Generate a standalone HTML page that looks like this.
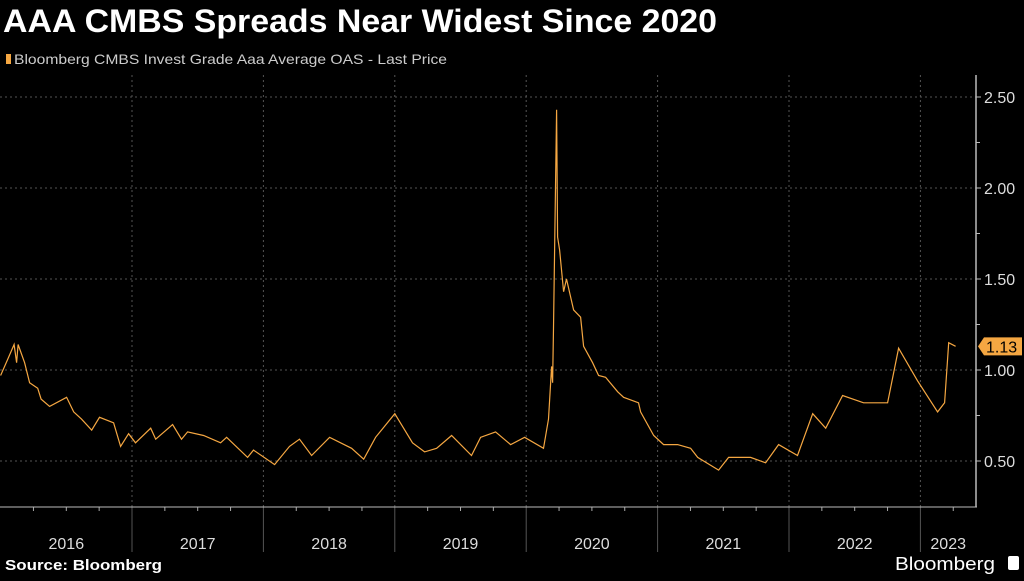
<!DOCTYPE html>
<html><head><meta charset="utf-8"><style>
body{margin:0;background:#000;width:1024px;height:576px;overflow:hidden;font-family:"Liberation Sans",sans-serif;}
</style></head><body>
<svg width="1024" height="576" xmlns="http://www.w3.org/2000/svg">
<text x="3" y="32" fill="#fff" font-size="32" font-weight="bold" textLength="714" lengthAdjust="spacingAndGlyphs">AAA CMBS Spreads Near Widest Since 2020</text>
<rect x="6" y="54" width="5" height="10" fill="#f5a742"/>
<text x="14" y="64" fill="#ccc" font-size="14" textLength="433" lengthAdjust="spacingAndGlyphs">Bloomberg CMBS Invest Grade Aaa Average OAS - Last Price</text>
<g id="grid"></g>
<g id="axes"></g>
<path id="line" fill="none" stroke="#f5a742" stroke-width="1.2"/>
<g id="badge"></g>
<text x="5" y="570" fill="#fff" font-size="15" font-weight="bold" textLength="157" lengthAdjust="spacingAndGlyphs">Source: Bloomberg</text>
<text x="895" y="570" fill="#fff" font-size="18" textLength="100" lengthAdjust="spacingAndGlyphs">Bloomberg</text>
<rect x="1008" y="556" width="11" height="14" rx="2" fill="#fff"/>
</svg>
<script>
const dates=[2016.00,2016.061,2016.103,2016.122,2016.133,2016.183,2016.221,2016.282,2016.308,2016.373,2016.502,2016.556,2016.616,2016.693,2016.753,2016.860,2016.913,2016.974,2017.027,2017.142,2017.180,2017.309,2017.377,2017.423,2017.545,2017.674,2017.720,2017.880,2017.925,2018.085,2018.199,2018.275,2018.367,2018.504,2018.671,2018.763,2018.854,2019.000,2019.135,2019.227,2019.318,2019.432,2019.584,2019.653,2019.767,2019.881,2019.988,2020.132,2020.170,2020.193,2020.201,2020.208,2020.231,2020.239,2020.254,2020.285,2020.307,2020.361,2020.414,2020.437,2020.505,2020.551,2020.604,2020.696,2020.741,2020.855,2020.871,2020.970,2021.046,2021.152,2021.251,2021.305,2021.464,2021.540,2021.708,2021.822,2021.921,2022.065,2022.180,2022.279,2022.408,2022.568,2022.750,2022.834,2022.979,2023.131,2023.184,2023.215,2023.268];
const values=[0.97,1.07,1.14,1.04,1.14,1.04,0.93,0.90,0.84,0.80,0.85,0.77,0.73,0.67,0.74,0.71,0.58,0.65,0.60,0.68,0.62,0.70,0.62,0.66,0.64,0.60,0.63,0.52,0.56,0.48,0.58,0.62,0.53,0.63,0.57,0.51,0.63,0.76,0.60,0.55,0.57,0.64,0.53,0.63,0.66,0.59,0.63,0.57,0.73,1.02,0.93,1.23,2.43,1.73,1.66,1.43,1.50,1.33,1.29,1.13,1.04,0.97,0.96,0.88,0.85,0.82,0.77,0.64,0.59,0.59,0.57,0.52,0.45,0.52,0.52,0.49,0.59,0.53,0.76,0.68,0.86,0.82,0.82,1.12,0.94,0.77,0.82,1.15,1.13];
const yTicks=[0.5,1.0,1.5,2.0,2.5];
const yearLabels=[2016,2017,2018,2019,2020,2021,2022,2023];
const NS="http://www.w3.org/2000/svg";
const X=d=>0.6+(d-2016)*131.4;
const Y=v=>461-(v-0.5)*182;
function mk(t,a,p){const e=document.createElementNS(NS,t);for(const k in a)e.setAttribute(k,a[k]);p.appendChild(e);return e;}
const grid=document.getElementById('grid'),axes=document.getElementById('axes');
yTicks.forEach(v=>{
 const l=mk('line',{x1:0,x2:976,y1:Y(v),y2:Y(v),stroke:'#555','stroke-dasharray':'2,3'},grid);
 
 
 mk('line',{x1:976,x2:981,y1:Y(v),y2:Y(v),stroke:'#bbb'},axes);
 const t=mk('text',{x:984,y:Y(v)+6,fill:'#ddd','font-size':16},axes);t.textContent=v.toFixed(2);
 
 
});
for(let v=0.75;v<2.6;v+=0.5){mk('line',{x1:976,x2:980,y1:Y(v),y2:Y(v),stroke:'#bbb'},axes);}
yearLabels.forEach(yr=>{
 const x=X(yr);
 if(yr>2016){const g=mk('line',{x1:x,x2:x,y1:75,y2:507,stroke:'#555','stroke-dasharray':'2,3'},grid);
 
 
 mk('line',{x1:x,x2:x,y1:507,y2:552,stroke:'#555'},axes);}
 for(let q=1;q<4;q++){const xq=X(yr+q/4);if(xq<976)mk('line',{x1:xq,x2:xq,y1:507,y2:511,stroke:'#aaa'},axes);}
 const nx=Math.min(X(yr+1),976);
 const t=mk('text',{x:(x+nx)/2,y:549,fill:'#ddd','font-size':16,'text-anchor':'middle'},axes);t.textContent=yr;
 
 
});
mk('line',{x1:0,x2:977,y1:507,y2:507,stroke:'#bbb'},axes);
mk('line',{x1:976,x2:976,y1:75,y2:507,stroke:'#bbb','stroke-width':1.5},axes);
document.getElementById('line').setAttribute('d',dates.map((d,i)=>(i?'L':'M')+X(d).toFixed(1)+','+Y(values[i]).toFixed(1)).join(''));
const last=values[values.length-1],by=Y(last),b=document.getElementById('badge');
const p=mk('path',{d:`M978,${by} L984,${by-9} L1022,${by-9} L1022,${by+9} L984,${by+9}Z`,fill:'#f5a742'},b);


const bt=mk('text',{x:986,y:by+6,fill:'#000','font-size':16},b);bt.textContent=last.toFixed(2);


</script>
</body></html>
